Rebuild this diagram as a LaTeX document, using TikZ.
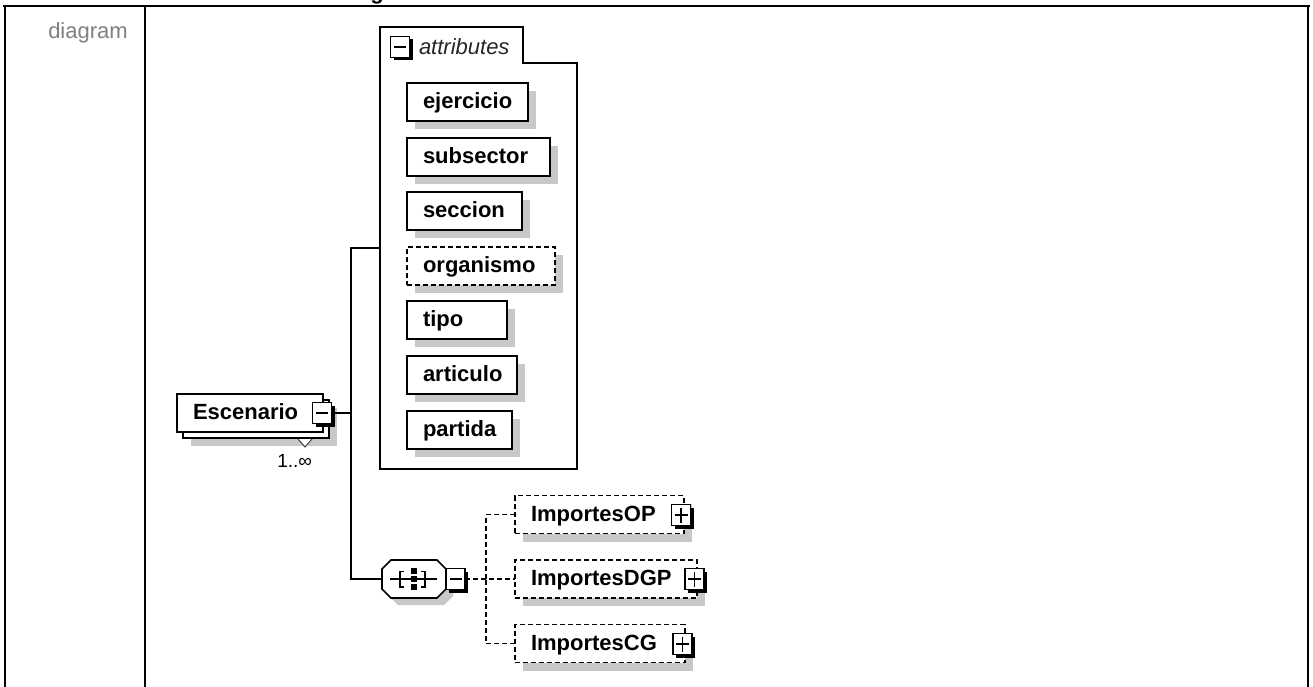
\documentclass[tikz,border=0pt]{standalone}
\usepackage{fontspec}
\setmainfont{Liberation Sans}
\usetikzlibrary{shadows,calc}
\definecolor{shadowc}{RGB}{200,200,200}
\definecolor{labelgray}{RGB}{128,128,128}
\newcommand\lbx[2]{\makebox[#1][l]{#2}}
\begin{document}
\begin{tikzpicture}[x=1pt,y=-1pt,
  every node/.style={inner sep=0pt, outer sep=0pt},
  fnt/.style={font=\fontsize{22}{26}\selectfont\bfseries},
  boxbase/.style={draw, line width=1.6pt, fill=white, anchor=west, minimum height=38pt,
    inner xsep=16pt, text height=17pt, text depth=4pt, fnt},
  elbox/.style={boxbase, drop shadow={shadow xshift=8pt, shadow yshift=-8pt, opacity=1, fill=shadowc}},
  optbox/.style={elbox, dash pattern=on 5pt off 3pt},
  pmbox/.style={draw, line width=1.5pt, fill=white, minimum width=19pt, minimum height=21pt,
    general shadow={shadow xshift=3pt, shadow yshift=-3pt, fill=black, opacity=1}},
  conn/.style={line width=1.6pt},
  dconn/.style={conn, dash pattern=on 5pt off 3pt},
  sym/.style={line width=1.6pt},
]
\useasboundingbox (0,0) rectangle (1313,687);
\clip (0,0) rectangle (1313,687);
\fill[white] (0,0) rectangle (1313,687);

% partially visible heading
\node[anchor=base, fnt] (ttl) at (377,-0.5) {g};

% table frame
\draw[line width=2.5pt] (3,6) -- (1310,6);
\draw[line width=1.6pt] (5,6) -- (5,687);
\draw[line width=1.6pt] (145,6) -- (145,687);
\draw[line width=1.6pt] (1308,6) -- (1308,687);
\node[anchor=base, font=\fontsize{22}{26}\selectfont, text=labelgray] (lbl) at (88,39) {diagram};

% Escenario element (multiple occurrences)
\node[elbox, minimum width=146pt] (escback) at (183,419) {};
\node[boxbase] (esc) at (177,413) {\lbx{114pt}{Escenario}};
\filldraw[fill=white, draw=black!75, line width=1pt] (298,439) -- (305,447) -- (312,439);
\node[anchor=base east, font=\fontsize{19}{22}\selectfont] (occ) at (312,467) {1..\char"221E};
\node[pmbox] (m1) at (322,413) {};
\draw[sym] ($(m1.west)+(3.5,0)$) -- ($(m1.east)+(-3.5,0)$);

% attributes container
\node[minimum width=197pt, minimum height=442pt, anchor=north west] (attrs) at (380,27) {};
\draw[line width=1.6pt] (380,27) -- (523,27) -- (523,63) -- (577,63) -- (577,469) -- (380,469) -- cycle;
\node[pmbox] (m0) at (400,47) {};
\draw[sym] ($(m0.west)+(3.5,0)$) -- ($(m0.east)+(-3.5,0)$);
\node[anchor=base west, font=\fontsize{22}{26}\selectfont\itshape, text=black!85] (attrlbl) at (419,55) {attributes};

\node[elbox] (ejercicio) at (407,102) {\lbx{89pt}{ejercicio}};
\node[elbox] (subsector) at (407,157) {\lbx{111pt}{subsector}};
\node[elbox] (seccion) at (407,211) {\lbx{83pt}{seccion}};
\node[optbox] (organismo) at (407,266) {\lbx{116pt}{organismo}};
\node[elbox] (tipo) at (407,320) {\lbx{68pt}{tipo}};
\node[elbox] (articulo) at (407,375) {\lbx{78pt}{articulo}};
\node[elbox] (partida) at (407,430) {\lbx{73pt}{partida}};

% sequence compositor
\node[minimum width=64pt, minimum height=38pt] (seq) at (414,579) {};
\fill[shadowc] (398,567) -- (444,567) -- (453,576) -- (453,596) -- (444,605) -- (398,605) -- (389,596) -- (389,576) -- cycle;
\filldraw[fill=white, line width=1.6pt] (391,560) -- (437,560) -- (446,569) -- (446,589) -- (437,598) -- (391,598) -- (382,589) -- (382,569) -- cycle;
\draw[sym] (390,579) -- (437,579);
\draw[sym] (404,571.5) -- (400,571.5) -- (400,587) -- (404,587);
\draw[sym] (421,571.5) -- (425,571.5) -- (425,587) -- (421,587);
\fill (411,568) rectangle (417,573.5);
\fill (411,576) rectangle (417,581.5);
\fill (411,584) rectangle (417,589.5);
\node[pmbox] (m2) at (455.5,579) {};
\draw[sym] ($(m2.west)+(3.5,0)$) -- ($(m2.east)+(-3.5,0)$);

% connectors from Escenario
\coordinate (jv) at (351,413);
\draw[conn] (m1.east) -- (jv);
\draw[conn] (attrs.west) -| (jv) |- (seq.west);

% child elements
\node[optbox] (op) at (515,514.5) {\lbx{137pt}{ImportesOP}};
\node[optbox] (dgp) at (515,579) {\lbx{150pt}{ImportesDGP}};
\node[optbox] (cg) at (515,643.5) {\lbx{138pt}{ImportesCG}};
\node[pmbox] (p1) at (681,515) {};
\node[pmbox] (p2) at (694.5,579) {};
\node[pmbox] (p3) at (682.5,644) {};
\foreach \p in {p1,p2,p3}{
  \draw[sym] ($(\p.west)+(3,0)$) -- ($(\p.east)+(-3,0)$);
  \draw[sym] ($(\p.north)+(0,3)$) -- ($(\p.south)+(0,-3)$);
}

\coordinate (jd) at (486,579);
\draw[dconn] (m2.east) -- (dgp.west);
\draw[dconn] (op.west) -| (jd);
\draw[dconn] (cg.west) -| (jd);
\end{tikzpicture}
\end{document}
